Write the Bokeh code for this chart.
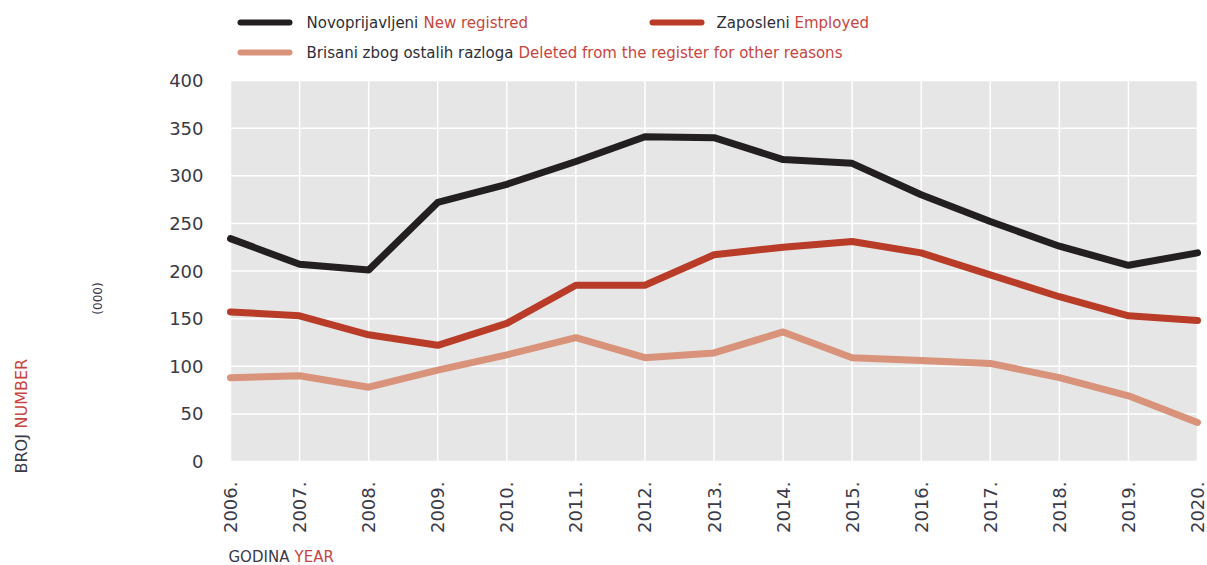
import math
from bokeh.plotting import figure
from bokeh.models import Range1d, FixedTicker, BoxAnnotation
from bokeh.core.properties import value
from bokeh.embed import file_html
from bokeh.resources import INLINE

# ---- data (thousands) ----
years = [2006, 2007, 2008, 2009, 2010, 2011, 2012, 2013, 2014, 2015, 2016, 2017, 2018, 2019, 2020]
year_labels = ["2006.", "2007.", "2008.", "2009.", "2010.", "2011.", "2012.", "2013.",
               "2014.", "2015.", "2016.", "2017.", "2018.", "2019.", "2020."]
new_registered = [234, 207, 201, 272, 291, 315, 341, 340, 317, 313, 280, 252, 226, 206, 219]
employed = [157, 153, 133, 122, 145, 185, 185, 217, 225, 231, 219, 196, 173, 153, 148]
deleted_other = [88, 90, 78, 96, 112, 130, 109, 114, 136, 109, 106, 103, 88, 69, 41]
y_ticks = [0, 50, 100, 150, 200, 250, 300, 350, 400]

series_names_bs = ["Novoprijavljeni", "Zaposleni", "Brisani zbog ostalih razloga"]
series_names_en = ["New registred", "Employed", "Deleted from the register for other reasons"]
series_colors = ["#231f20", "#b83c27", "#d9937b"]

TEXT_DARK = "#2e2e38"
AXIS_DARK = "#3a3a48"
TEXT_RED = "#c8453f"
FONT = "DejaVu Sans"

# ---- page layout (pixels): plot area spans x 230..1197, y 80..461 ----
W, H = 1207, 565
PA_L, PA_R, PA_T, PA_B = 230, 1197, 80, 461
x_lo, x_hi = years[0], years[-1]
y_lo, y_hi = y_ticks[0], y_ticks[-1]
ppx = (PA_R - PA_L) / (x_hi - x_lo)
ppy = (PA_B - PA_T) / (y_hi - y_lo)
x_start = x_lo - PA_L / ppx
x_end = x_hi + (W - PA_R) / ppx
y_end = y_hi + PA_T / ppy
y_start = y_lo - (H - PA_B) / ppy


def X(px):
    return x_start + px / ppx


def Y(py):
    return y_end - py / ppy


p = figure(output_backend="svg", toolbar_location=None, width=W, height=H,
           x_range=Range1d(x_start, x_end), y_range=Range1d(y_start, y_end),
           min_border=0)
p.outline_line_color = None
p.background_fill_color = "white"
p.border_fill_color = "white"
p.grid.visible = False

# grey plot area
p.add_layout(BoxAnnotation(left=x_lo, right=x_hi, bottom=y_lo, top=y_hi,
                           fill_color="#e6e6e6", fill_alpha=1.0, line_color=None,
                           level="image"))
# white grid lines at the tick positions
p.segment(x0=years, y0=[y_lo] * len(years), x1=years, y1=[y_hi] * len(years),
          line_color="white", line_width=1.5, level="underlay")
p.segment(x0=[x_lo] * len(y_ticks), y0=y_ticks, x1=[x_hi] * len(y_ticks), y1=y_ticks,
          line_color="white", line_width=1.5, level="underlay")

# axes pinned to the edges of the plot area
p.xaxis.fixed_location = y_lo
p.yaxis.fixed_location = x_lo
p.xaxis.bounds = (x_lo, x_hi)
p.yaxis.bounds = (y_lo, y_hi)
p.xaxis.ticker = FixedTicker(ticks=years)
p.xaxis.major_label_overrides = {y: l for y, l in zip(years, year_labels)}
p.xaxis.major_label_orientation = math.pi / 2
p.yaxis.ticker = FixedTicker(ticks=y_ticks)
for ax in (p.xaxis[0], p.yaxis[0]):
    ax.axis_line_color = None
    ax.major_tick_line_color = None
    ax.minor_tick_line_color = None
    ax.major_tick_out = 0
    ax.major_tick_in = 0
    ax.major_label_text_font = FONT
    ax.major_label_text_font_size = "18px"
    ax.major_label_text_color = AXIS_DARK
p.yaxis.major_label_standoff = 27
p.xaxis.major_label_standoff = 20

# data lines
for vals, col in zip([new_registered, employed, deleted_other], series_colors):
    p.line(years, vals, line_color=col, line_width=7, line_cap="round", line_join="round")

# ---- legend ----
sw_x = [(240, 289), (652, 701), (240, 289)]
sw_y = [22, 22, 52]
txt_x = [306, 716, 306]
red_x = [423, 794, 518]
for (x0, x1), yy, col in zip(sw_x, sw_y, series_colors):
    p.line([X(x0), X(x1)], [Y(yy), Y(yy)], line_color=col, line_width=6, line_cap="round")
p.text(x=[X(v) for v in txt_x], y=[Y(v) for v in sw_y], text=series_names_bs,
       text_font=value(FONT), text_font_size="15px", text_color=TEXT_DARK,
       text_align="left", text_baseline="middle")
p.text(x=[X(v) for v in red_x], y=[Y(v) for v in sw_y], text=series_names_en,
       text_font=value(FONT), text_font_size="15px", text_color=TEXT_RED,
       text_align="left", text_baseline="middle")

# ---- axis titles ----
def title(txt, px, py, color, size, angle=0.0, align="left"):
    p.text(x=[X(px)], y=[Y(py)], text=[txt], angle=angle,
           text_font=value(FONT), text_font_size=size, text_color=color,
           text_align=align, text_baseline="middle")


title("GODINA", 228, 556, AXIS_DARK, "15px")
title("YEAR", 294, 556, TEXT_RED, "15px")
title("BROJ", 21, 473, AXIS_DARK, "16px", angle=math.pi / 2)
title("NUMBER", 21, 428, TEXT_RED, "16px", angle=math.pi / 2)
title("(000)", 97, 298, AXIS_DARK, "12px", angle=math.pi / 2, align="center")

open("out.html", "w").write(file_html(p, INLINE))
